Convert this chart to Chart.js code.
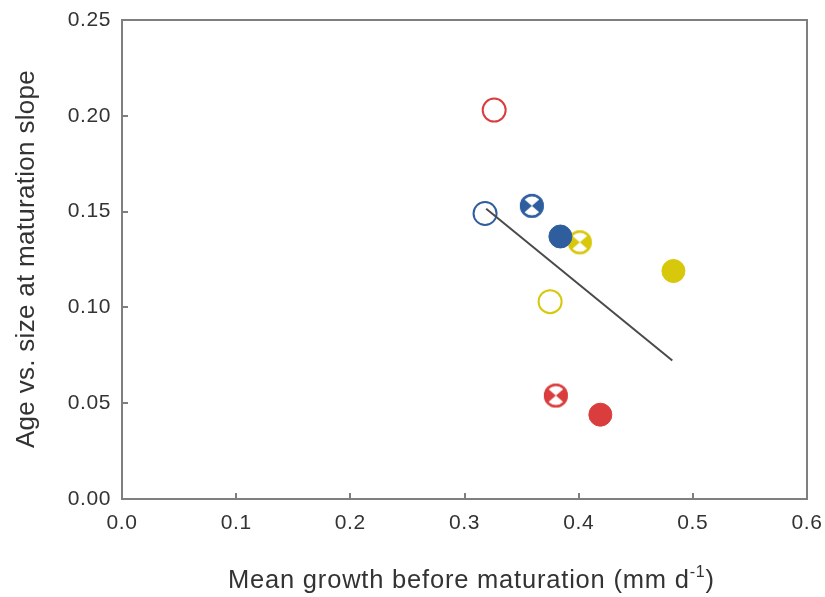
<!DOCTYPE html>
<html><head><meta charset="utf-8">
<script src="https://cdn.jsdelivr.net/npm/chart.js@4.4.1/dist/chart.umd.min.js"></script>
<style>html,body{margin:0;padding:0;background:#fff}canvas{display:block}</style>
</head><body>
<canvas id="c" width="825" height="597"></canvas>
<script>
// ---- data ----
const pointGroup = ['Red','Blue','Blue','Blue','Yellow','Yellow','Yellow','Red','Red'];
const pointType  = ['open','open','cross','filled','cross','filled','open','cross','filled'];
const growth = [0.326, 0.318, 0.359, 0.384, 0.401, 0.483, 0.375, 0.380, 0.419];
const slope  = [0.203, 0.149, 0.153, 0.137, 0.134, 0.119, 0.103, 0.054, 0.044];
const fitX = [0.319, 0.482];
const fitY = [0.1515, 0.0723];
const xTickValues = [0.0, 0.1, 0.2, 0.3, 0.4, 0.5, 0.6];
const yTickValues = [0.00, 0.05, 0.10, 0.15, 0.20, 0.25];
const xTitle = 'Mean growth before maturation (mm d';
const xTitleSup = '-1';
const xTitleEnd = ')';
const yTitle = 'Age vs. size at maturation slope';

// ---- styles ----
const groupColors = { Red: '#da3d3d', Blue: '#2e5e9d', Yellow: '#d8c80c' };
const FONT = '"Liberation Sans", Arial, sans-serif';
const TEXT = '#333333';
const AXIS = '#7f7f7f';

function crossMarker(color) {
  const s = 30, c = s / 2, r = 12;
  const cv = document.createElement('canvas');
  cv.width = s; cv.height = s;
  const g = cv.getContext('2d');
  g.fillStyle = color;
  g.beginPath(); g.arc(c, c, r, 0, Math.PI * 2); g.fill();
  g.fillStyle = '#ffffff';
  const a = 0.85, ri = r - 2.4;
  g.beginPath(); g.moveTo(c, c); g.arc(c, c, ri, -Math.PI / 2 - a, -Math.PI / 2 + a); g.closePath(); g.fill();
  g.beginPath(); g.moveTo(c, c); g.arc(c, c, ri, Math.PI / 2 - a, Math.PI / 2 + a); g.closePath(); g.fill();
  g.strokeStyle = color; g.lineWidth = 2;
  g.beginPath(); g.arc(c, c, r - 1, 0, Math.PI * 2); g.stroke();
  return cv;
}

const pointDatasets = growth.map((x, i) => {
  const col = groupColors[pointGroup[i]];
  const t = pointType[i];
  const ds = {
    type: 'scatter',
    label: pointGroup[i] + ' ' + t,
    data: [{ x: x, y: slope[i] }],
    order: 1,
    pointRadius: 11.5,
    pointHoverRadius: 11.5,
  };
  if (t === 'open') {
    ds.pointStyle = 'circle';
    ds.backgroundColor = 'rgba(255,255,255,0)';
    ds.borderColor = col;
    ds.borderWidth = 2;
  } else if (t === 'filled') {
    ds.pointStyle = 'circle';
    ds.backgroundColor = col;
    ds.borderColor = col;
    ds.borderWidth = 1;
  } else {
    ds.pointStyle = crossMarker(col);
    ds.backgroundColor = col;
    ds.borderColor = col;
  }
  return ds;
});

const fitDataset = {
  type: 'line',
  label: 'fit',
  data: fitX.map((x, i) => ({ x: x, y: fitY[i] })),
  borderColor: '#4a4a4a',
  borderWidth: 2,
  pointRadius: 0,
  fill: false,
  order: 0,
};

const L = 122, B = 499;

const framePlugin = {
  id: 'frame',
  beforeDraw(chart) { chart.ctx.letterSpacing = '0.6px'; },
  beforeDatasetsDraw(chart) {
    const ctx = chart.ctx, a = chart.chartArea;
    const xs = chart.scales.x, ys = chart.scales.y;
    ctx.save();
    ctx.strokeStyle = AXIS;
    ctx.lineWidth = 2;
    ctx.strokeRect(a.left, a.top, a.right - a.left, a.bottom - a.top);
    ctx.beginPath();
    xTickValues.forEach(v => {
      const px = Math.round(xs.getPixelForValue(v));
      ctx.moveTo(px, a.bottom); ctx.lineTo(px, a.bottom - 6);
    });
    yTickValues.forEach(v => {
      const py = Math.round(ys.getPixelForValue(v));
      ctx.moveTo(a.left, py); ctx.lineTo(a.left + 6, py);
    });
    ctx.stroke();
    ctx.restore();
  },
  afterDraw(chart) {
    const ctx = chart.ctx, a = chart.chartArea;
    ctx.save();
    ctx.fillStyle = TEXT;
    ctx.textBaseline = 'alphabetic';
    ctx.letterSpacing = '0.8px';
    const mainFont = '25.5px ' + FONT, supFont = '16px ' + FONT;
    ctx.font = mainFont; const w1 = ctx.measureText(xTitle).width; const w3 = ctx.measureText(xTitleEnd).width;
    ctx.font = supFont; const w2 = ctx.measureText(xTitleSup).width;
    let x = 228;
    const base = 588;
    ctx.textAlign = 'left';
    ctx.font = mainFont; ctx.fillText(xTitle, x, base); x += w1;
    ctx.font = supFont; ctx.fillText(xTitleSup, x, base - 11); x += w2;
    ctx.font = mainFont; ctx.fillText(xTitleEnd, x, base);
    // y title
    ctx.letterSpacing = '0.3px';
    ctx.translate(34, 259);
    ctx.rotate(-Math.PI / 2);
    ctx.textAlign = 'center';
    ctx.font = '26px ' + FONT;
    ctx.fillText(yTitle, 0, 0);
    ctx.restore();
    ctx.letterSpacing = '0px';
  }
};

new Chart(document.getElementById('c'), {
  data: { datasets: [fitDataset, ...pointDatasets] },
  options: {
    responsive: false,
    animation: false,
    layout: { padding: { left: 0, top: 20, right: 18, bottom: 0 } },
    plugins: { legend: { display: false }, tooltip: { enabled: false } },
    scales: {
      x: {
        type: 'linear', min: 0, max: 0.6,
        afterFit(s) { s.height = 597 - B; s.paddingLeft = 0; s.paddingRight = 0; },
        afterBuildTicks(s) { s.ticks = xTickValues.map(v => ({ value: v })); },
        grid: { display: false, drawTicks: false },
        border: { display: false },
        ticks: { padding: 12, color: TEXT, font: { family: FONT, size: 21 }, callback: v => Number(v).toFixed(1) },
      },
      y: {
        type: 'linear', min: 0, max: 0.25,
        afterFit(s) { s.width = L; s.paddingTop = 0; s.paddingBottom = 0; },
        afterBuildTicks(s) { s.ticks = yTickValues.map(v => ({ value: v })); },
        grid: { display: false, drawTicks: false },
        border: { display: false },
        ticks: { padding: 11, color: TEXT, font: { family: FONT, size: 21 }, callback: v => Number(v).toFixed(2) },
        title: { display: false, text: yTitle },
      }
    }
  },
  plugins: [framePlugin]
});
</script>
</body></html>
